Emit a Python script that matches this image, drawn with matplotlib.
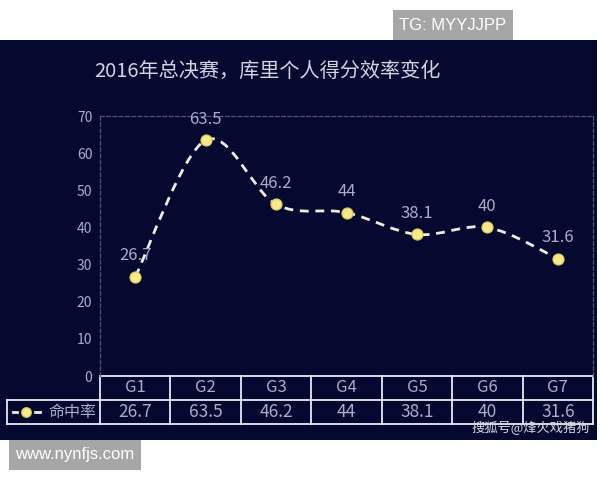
import matplotlib
matplotlib.use("Agg")
import matplotlib.pyplot as plt
from matplotlib.path import Path
from matplotlib.patches import PathPatch, Rectangle
from matplotlib.lines import Line2D
import matplotlib.transforms as mtransforms
import numpy as np

plt.rcParams['font.family'] = ['Noto Sans CJK SC', 'DejaVu Sans']

# ---- data ----
games = ["G1", "G2", "G3", "G4", "G5", "G6", "G7"]
rate = [26.7, 63.5, 46.2, 44, 38.1, 40, 31.6]
rate_labels = ["26.7", "63.5", "46.2", "44", "38.1", "40", "31.6"]
yticks = [0, 10, 20, 30, 40, 50, 60, 70]
series_name = "命中率"
title = "2016年总决赛，库里个人得分效率变化"

W, H = 600, 480
BG = "#050930"
TXT = "#a9adc9"

fig = plt.figure(figsize=(6, 4.8), dpi=100)
fig.patch.set_facecolor("white")

def fx(px):
    return px / W

def fy(py):
    return 1 - py / H

# dark panel
fig.patches.append(Rectangle((fx(0), fy(440)), fx(597), (440 - 40) / H,
                             transform=fig.transFigure, facecolor=BG,
                             edgecolor="none", zorder=-2))

# plot area
L, R, T, B = 100, 593, 116, 376
ax = fig.add_axes([fx(L), fy(B), (R - L) / W, (B - T) / H])
ax.set_zorder(3)
ax.set_facecolor("none")
ax.set_xlim(-0.5, len(games) - 0.5)
ax.set_ylim(0, 70)
for s in ["left", "top", "right"]:
    ax.spines[s].set_color("#4e5478")
    ax.spines[s].set_linestyle((0, (3, 2)))
    ax.spines[s].set_linewidth(0.9)
ax.spines["bottom"].set_visible(False)
ax.set_xticks([])
ax.set_yticks(yticks)
ax.tick_params(axis="y", length=0, pad=5.5, labelsize=10, labelcolor=TXT)

# smooth dashed line (Catmull-Rom through data points)
x = np.arange(len(rate), dtype=float)
y = np.array(rate, dtype=float)
verts = [(x[0], y[0])]
codes = [Path.MOVETO]
n = len(x)
for i in range(n - 1):
    p0 = (x[max(i - 1, 0)], y[max(i - 1, 0)])
    p1 = (x[i], y[i])
    p2 = (x[i + 1], y[i + 1])
    p3 = (x[min(i + 2, n - 1)], y[min(i + 2, n - 1)])
    k = 1.0 / 6.0
    c1 = (p1[0] + (p2[0] - p0[0]) * k, p1[1] + (p2[1] - p0[1]) * k)
    c2 = (p2[0] - (p3[0] - p1[0]) * k, p2[1] - (p3[1] - p1[1]) * k)
    verts += [c1, c2, p2]
    codes += [Path.CURVE4] * 3
ax.add_patch(PathPatch(Path(verts, codes), facecolor="none",
                       edgecolor="#ecebe4", linewidth=2.0,
                       linestyle=(0, (3.2, 2.4)), zorder=3, clip_on=False))
ax.plot(x, y, linestyle="none", marker="o", markersize=8,
        markerfacecolor="#f6e98a", markeredgecolor="#d9c45a",
        markeredgewidth=0.8, zorder=4, clip_on=False)
for xi, yi, lab in zip(x, y, rate_labels):
    ax.annotate(lab, (xi, yi), xytext=(0, 9), textcoords="offset points",
                ha="center", va="bottom", fontsize=12, color=TXT)

# title
fig.text(fx(267), fy(71), title, ha="center", va="center",
         fontsize=14.5, color="#d2d3e0")

# data table below axes
trans = mtransforms.blended_transform_factory(ax.transData, ax.transAxes)
rh = 24 / (B - T)
x_left = -0.5 - (L - 7) / ((R - L) / len(games))
lc = "#e8e8ee"
lw = 1.3
def hline(x0, x1, yy):
    ax.add_line(Line2D([x0, x1], [yy, yy], transform=trans, color=lc,
                       linewidth=lw, clip_on=False))
def vline(xx, y0, y1):
    ax.add_line(Line2D([xx, xx], [y0, y1], transform=trans, color=lc,
                       linewidth=lw, clip_on=False))
hline(-0.5, len(games) - 0.5, 0)
hline(x_left, len(games) - 0.5, -rh)
hline(x_left, len(games) - 0.5, -2 * rh)
for i in range(len(games) + 1):
    vline(i - 0.5, 0, -2 * rh)
vline(x_left, -rh, -2 * rh)
for i, (g, lab) in enumerate(zip(games, rate_labels)):
    ax.text(i, -rh / 2, g, transform=trans, ha="center", va="center",
            fontsize=12, color=TXT)
    ax.text(i, -1.5 * rh, lab, transform=trans, ha="center", va="center",
            fontsize=12.5, color=TXT)
# legend cell
for a, b in [(0.085, 0.145), (0.395, 0.465)]:
    ax.add_line(Line2D([x_left + a, x_left + b], [-1.5 * rh] * 2,
                       transform=trans, color="#ecebe4", linewidth=2,
                       clip_on=False))
ax.plot([x_left + 0.27], [-1.5 * rh], transform=trans, marker="o",
        markersize=7, markerfacecolor="#f6e98a", markeredgecolor="#d9c45a",
        markeredgewidth=0.8, clip_on=False)
ax.text(-0.55, -1.5 * rh, series_name, transform=trans, ha="right",
        va="center", fontsize=11.5, color=TXT)

# source watermark
fig.text(fx(531), fy(428), "搜狐号@烽火戏猪狗", ha="center", va="center",
         fontsize=9.5, color="#d8d8e0", zorder=5)

# gray tag boxes
fig.patches.append(Rectangle((fx(393), fy(40)), (513 - 393) / W, 30 / H,
                             transform=fig.transFigure, facecolor="#a6a6a6",
                             edgecolor="none", zorder=1))
fig.text(fx(453), fy(25), "TG: MYYJJPP", ha="center", va="center",
         fontsize=12, color="white", family="Liberation Sans")
fig.patches.append(Rectangle((fx(9), fy(470)), (141 - 9) / W, 30 / H,
                             transform=fig.transFigure, facecolor="#a6a6a6",
                             edgecolor="none", zorder=1))
fig.text(fx(75), fy(455), "www.nynfjs.com", ha="center", va="center",
         fontsize=12, color="white", family="Liberation Sans")

fig.savefig("out.png", dpi=100, facecolor=fig.get_facecolor())
